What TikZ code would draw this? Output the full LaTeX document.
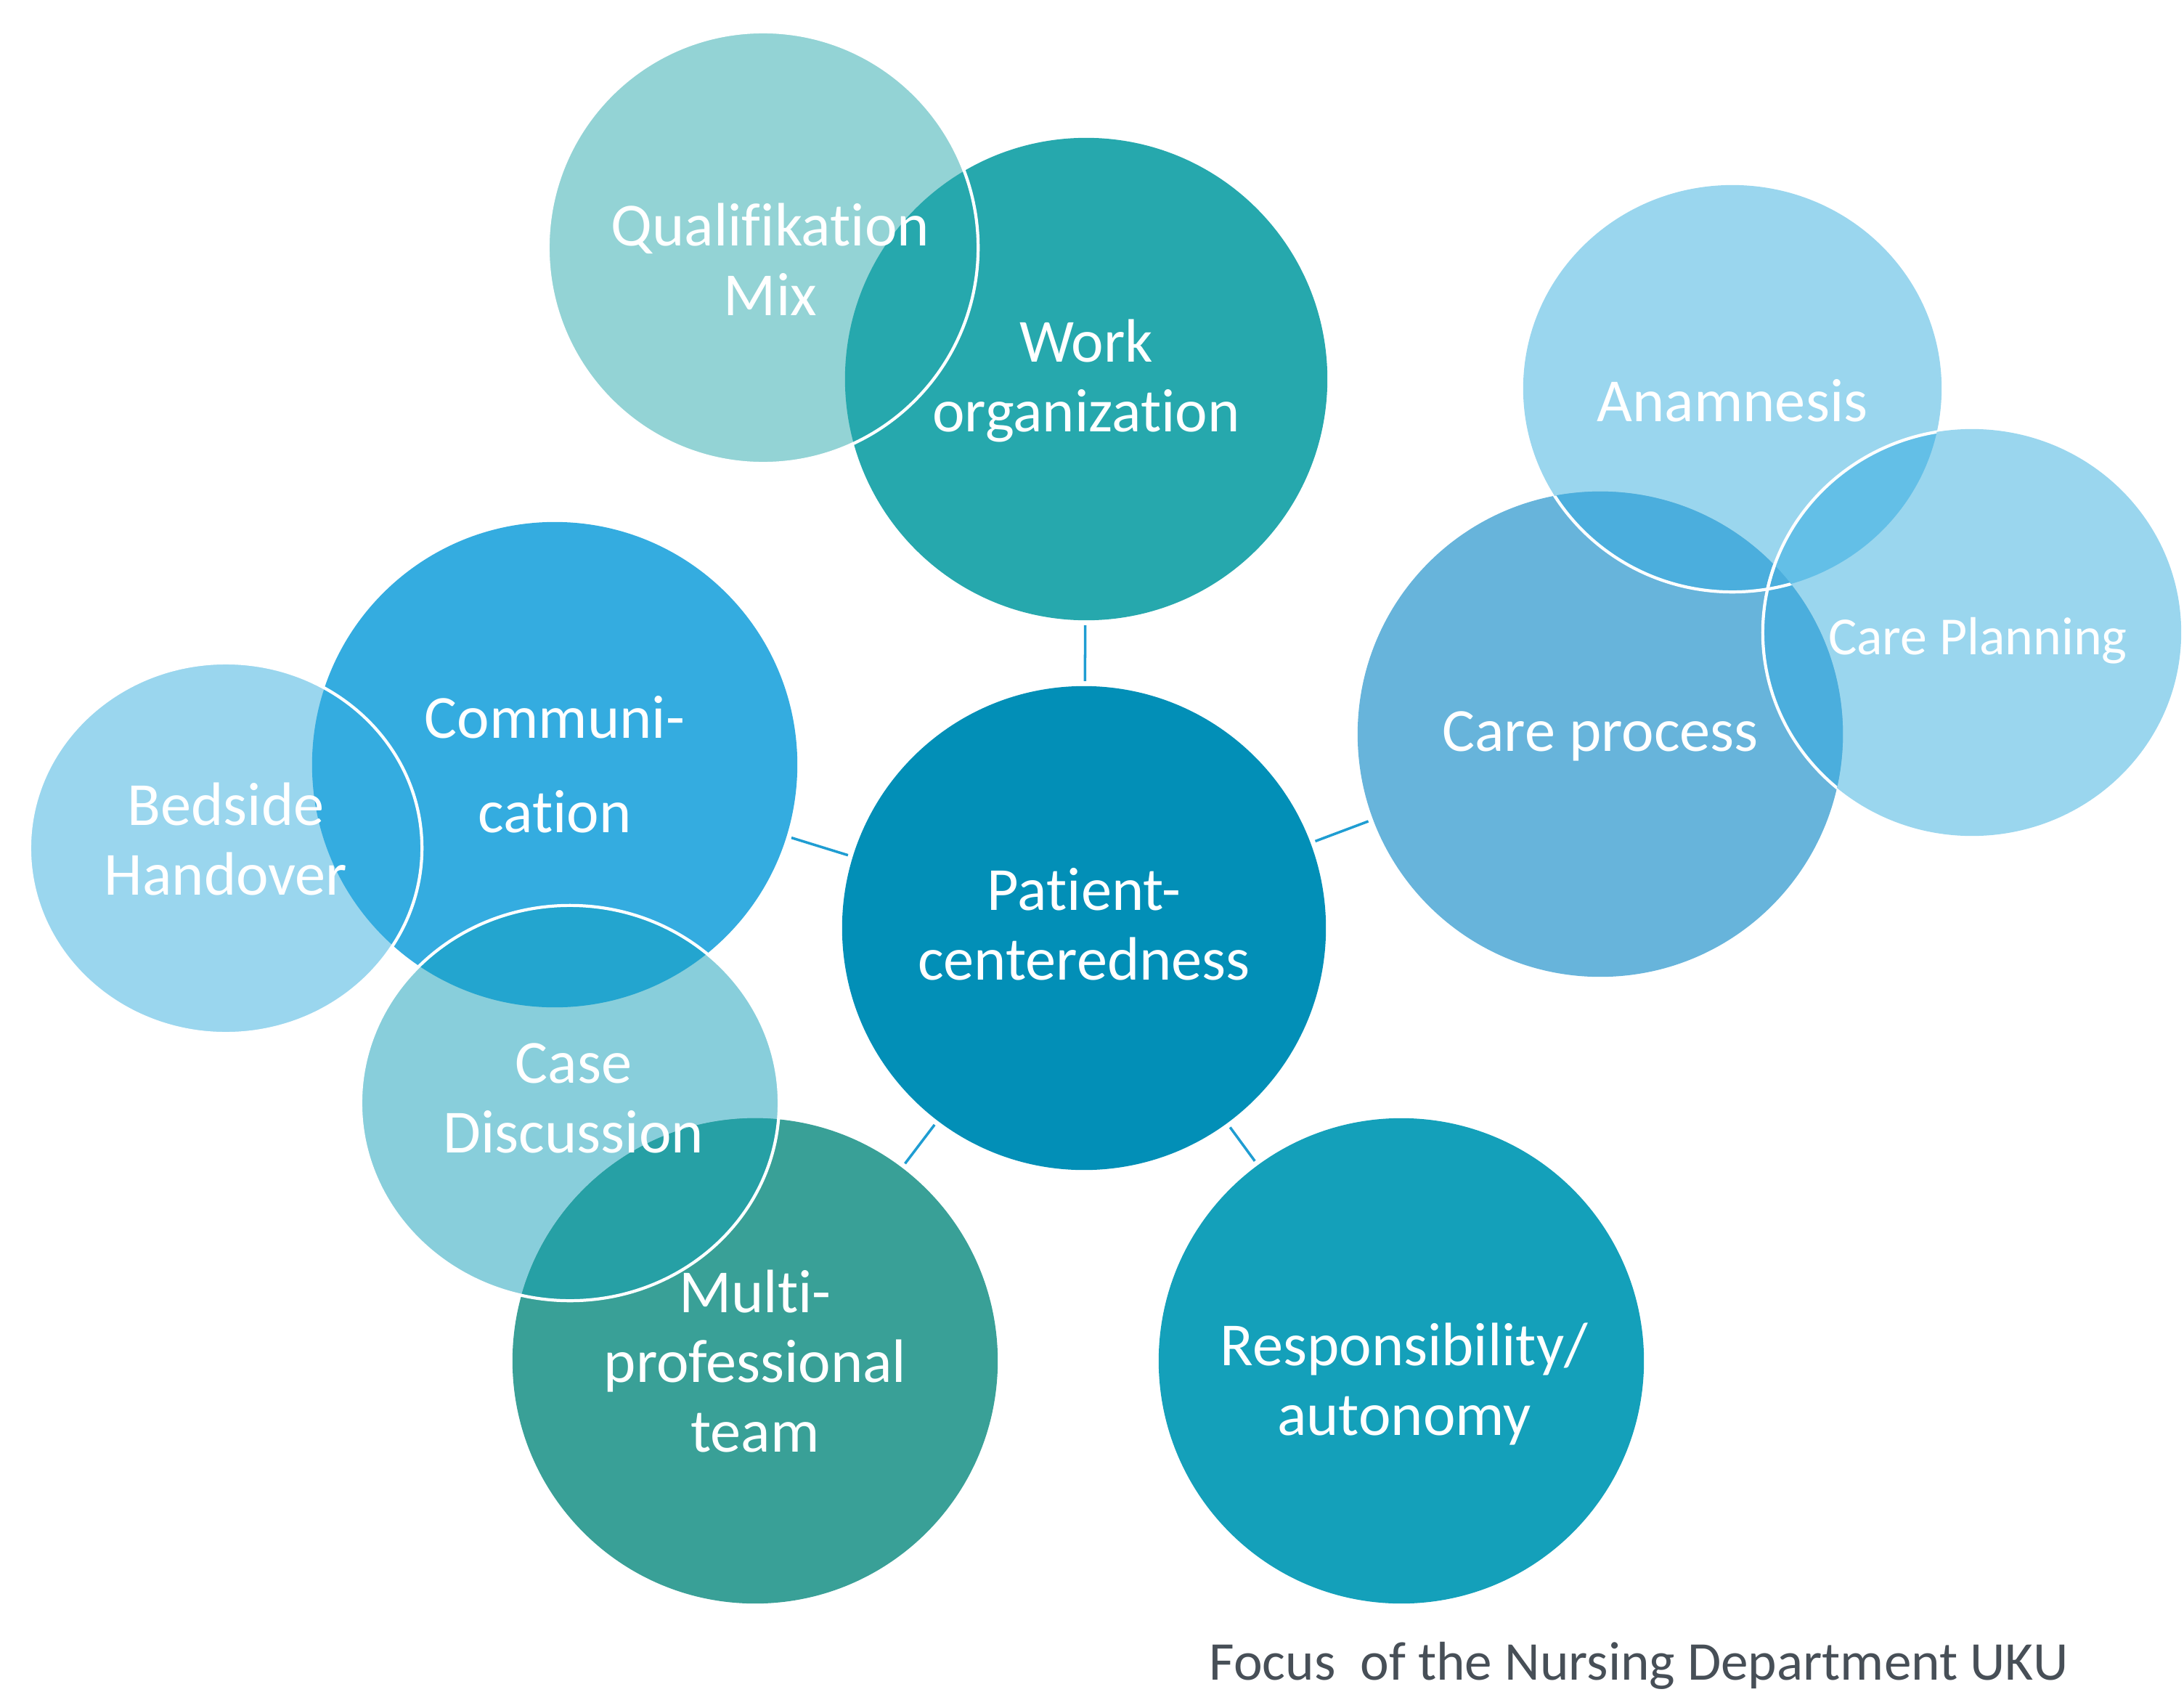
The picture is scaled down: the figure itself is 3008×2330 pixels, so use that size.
\documentclass[tikz,border=0pt]{standalone}
\usepackage{fontspec}
\setmainfont{Carlito}[Ligatures=NoCommon]
\usepackage{xcolor}
\usetikzlibrary{shapes.geometric,calc}

\definecolor{qualcol}{HTML}{93D3D5}
\definecolor{workcol}{HTML}{26A8AD}
\definecolor{lightblue}{HTML}{9AD6EE}
\definecolor{proccol}{HTML}{67B4DB}
\definecolor{anamproc}{HTML}{4BAEDD}
\definecolor{anamplan}{HTML}{63BFE7}
\definecolor{commcol}{HTML}{34ACE0}
\definecolor{casecol}{HTML}{88CEDB}
\definecolor{casecomm}{HTML}{23A5CF}
\definecolor{casemulti}{HTML}{26A0A5}
\definecolor{multicol}{HTML}{39A097}
\definecolor{respcol}{HTML}{14A0BA}
\definecolor{patcol}{HTML}{028FB7}
\definecolor{linkcol}{HTML}{1F9DD2}
\definecolor{footcol}{HTML}{474F57}

\tikzset{
	bubble/.style={ellipse, inner sep=0pt, outer sep=0pt},
	lbl/.style={text=white, align=center, inner sep=0pt, font=\fontsize{24}{27.3}\selectfont},
	link/.style={draw=linkcol, line width=1pt, shorten <=2pt, shorten >=2pt},
	rim/.style={draw=white, line width=1.2pt},
}

\begin{document}
\begin{tikzpicture}[x=0.01cm, y=-0.01cm]
	\useasboundingbox (0,0) rectangle (3008,2330);

	% circles
	\node[bubble, fill=qualcol, minimum width=5.92cm, minimum height=5.94cm] at (1051,341) (qual) {};
	\node[bubble, fill=workcol, minimum width=6.64cm, minimum height=6.64cm] at (1496,522) (work) {};

	\node[bubble, fill=lightblue, minimum width=5.76cm, minimum height=5.60cm] at (2386,535) (anam) {};
	\node[bubble, fill=lightblue, minimum width=5.76cm, minimum height=5.60cm] at (2716,871) (plan) {};
	\node[bubble, fill=proccol, minimum width=6.68cm, minimum height=6.68cm] at (2204,1011) (proc) {};

	\node[bubble, fill=lightblue, minimum width=5.40cm, minimum height=5.10cm] at (311,1168) (bedside) {};
	\node[bubble, fill=commcol, minimum width=6.68cm, minimum height=6.68cm] at (764,1053) (comm) {};
	\node[bubble, fill=casecol, minimum width=5.76cm, minimum height=5.44cm] at (785,1519) (case) {};
	\node[bubble, fill=multicol, minimum width=6.68cm, minimum height=6.68cm] at (1040,1874) (multi) {};

	\node[bubble, fill=respcol, minimum width=6.68cm, minimum height=6.68cm] at (1930,1874) (resp) {};
	\node[bubble, fill=patcol, minimum width=6.66cm, minimum height=6.66cm] at (1493,1278) (patient) {};

	% overlaps
	\begin{scope}
		\clip (anam.center) ellipse [x radius=2.88cm, y radius=2.80cm];
		\fill[anamplan] (plan.center) ellipse [x radius=2.88cm, y radius=2.80cm];
		\fill[anamproc] (proc.center) circle [radius=3.34cm];
	\end{scope}
	\begin{scope}
		\clip (plan.center) ellipse [x radius=2.88cm, y radius=2.80cm];
		\fill[anamproc] (proc.center) circle [radius=3.34cm];
	\end{scope}
	\begin{scope}
		\clip (case.center) ellipse [x radius=2.88cm, y radius=2.72cm];
		\fill[casecomm] (comm.center) circle [radius=3.34cm];
		\fill[casemulti] (multi.center) circle [radius=3.34cm];
	\end{scope}

	% white rims
	\draw[rim] (qual.center) ellipse [x radius=2.96cm, y radius=2.97cm];
	\draw[rim] (bedside.center) ellipse [x radius=2.70cm, y radius=2.55cm];
	\draw[rim] (case.center) ellipse [x radius=2.88cm, y radius=2.72cm];
	\begin{scope}
		\clip (proc.center) circle [radius=3.34cm];
		\draw[rim] (anam.center) ellipse [x radius=2.88cm, y radius=2.80cm];
		\draw[rim] (plan.center) ellipse [x radius=2.88cm, y radius=2.80cm];
	\end{scope}
	\begin{scope}
		\clip (anam.center) ellipse [x radius=2.88cm, y radius=2.80cm];
		\draw[rim] (plan.center) ellipse [x radius=2.88cm, y radius=2.80cm];
	\end{scope}

	% links
	\draw[link] (patient) -- (work);
	\draw[link] (patient) -- (comm);
	\draw[link] (patient) -- (proc);
	\draw[link] (patient) -- (multi);
	\draw[link] (patient) -- (resp);

	% labels
	\node[lbl] at ($(qual)+(10,16)$) (qualtext) {Qualifikation\\Mix};
	\node[lbl] at ($(work)+(0,2)$) (worktext) {Work\\organization};
	\node[lbl] at ($(anam)+(0,17)$) (anamtext) {Anamnesis};
	\node[lbl, font=\fontsize{21}{25}\selectfont] at ($(plan)+(8,11)$) (plantext) {Care Planning};
	\node[lbl] at ($(proc)+(0,3)$) (proctext) {Care process};
	\node[lbl, font=\fontsize{24}{37}\selectfont] at (comm) (commtext) {Communi-\\cation};
	\node[lbl] at ($(bedside)+(0,-13)$) (bedsidetext) {Bedside\\Handover};
	\node[lbl] at ($(case)+(5,-7)$) (casetext) {Case\\Discussion};
	\node[lbl] at (multi) (multitext) {Multi-\\professional\\team};
	\node[lbl] at ($(resp)+(4,32)$) (resptext) {Responsibility/\\autonomy};
	\node[lbl] at ($(patient)+(0,-5)$) (patienttext) {Patient-\\centeredness};

	\node[anchor=base west, inner sep=0pt, text=footcol, font=\fontsize{21.4}{25}\selectfont] at (1665,2313) (footer) {Focus\ \ of the Nursing Department UKU};
\end{tikzpicture}
\end{document}
